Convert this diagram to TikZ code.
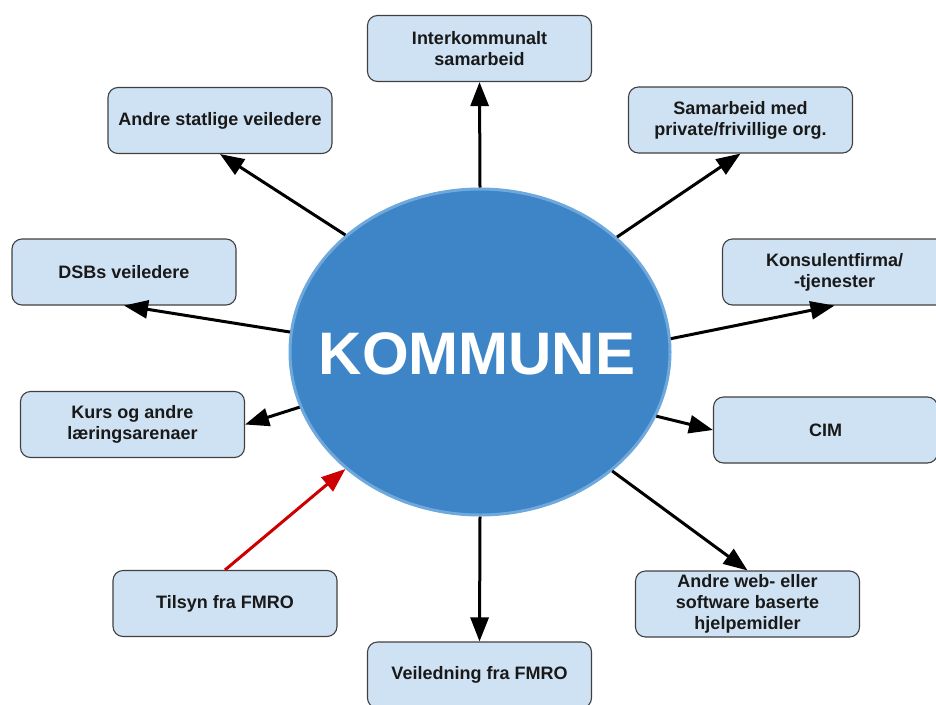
\documentclass[tikz,border=0pt]{standalone}
\usepackage{fontspec}
\setmainfont{Liberation Sans}
\usetikzlibrary{arrows.meta}
\definecolor{boxfill}{HTML}{CFE2F3}
\definecolor{boxline}{HTML}{404040}
\definecolor{komfill}{HTML}{3D85C6}
\definecolor{komline}{HTML}{6FA8DC}
\definecolor{tilsynred}{HTML}{CC0000}
\tikzset{
  x=1pt, y=-1pt,
  infobox/.style={draw=boxline, line width=1.1pt, fill=boxfill, rounded corners=10pt,
    minimum width=224pt, minimum height=66pt, inner sep=0pt, align=center,
    font=\bfseries\fontsize{18}{21}\selectfont, text=black!90},
  kommune/.style={ellipse, draw=komline, line width=3pt, fill=komfill,
    minimum width=380pt, minimum height=326pt, inner sep=0pt},
  link/.style={line width=3pt, -{Triangle[length=24pt,width=18pt]}},
  redlink/.style={link, draw=tilsynred, -{Triangle[length=24pt,width=18pt,fill=tilsynred]}}
}
\usetikzlibrary{shapes.geometric}
\begin{document}
\begin{tikzpicture}
\useasboundingbox (0,0) rectangle (936,704);

% central ellipse and its label
\node[kommune] (kom) at (480,352) {};
\node[text=white, inner sep=0pt, font=\bfseries\fontsize{60}{60}\selectfont] (komtxt) at (477,353.5) {KOMMUNE};

% surrounding boxes
\node[infobox] (ik)   at (479.5,48.5) {Interkommunalt\\samarbeid};
\node[infobox] (ast)  at (220,120.5)  {Andre statlige veiledere};
\node[infobox] (sm)   at (740.5,120)  {Samarbeid med\\private/frivillige org.};
\node[infobox] (dsb)  at (124,272)    {DSBs veiledere};
\node[infobox] (kon)  at (834.5,272)  {Konsulentfirma/\\-tjenester};
\node[infobox] (kurs) at (132.5,424.5){Kurs og andre\\læringsarenaer};
\node[infobox] (cim)  at (825.5,430)  {CIM};
\node[infobox] (ts)   at (225,603.5)  {Tilsyn fra FMRO};
\node[infobox] (aw)   at (747.5,604)  {Andre web- eller\\software baserte\\hjelpemidler};
\node[infobox] (vf)   at (479.5,675)  {Veiledning fra FMRO};

% connectors
\draw[link] (kom.90)    -- (ik.south);
\draw[link] (kom.139.3) -- (ast.south);
\draw[link] (kom.40.7)  -- (sm.south);
\draw[link] (kom.174.3) -- (dsb.south);
\draw[link] (kom.4.5)   -- (kon.south);
\draw[link] (kom.197.1) -- (kurs.east);
\draw[link] (kom.-20)   -- (cim.west);
\draw[link] (kom.-42.3) -- (aw.north);
\draw[link] (kom.270)   -- (vf.north);
\draw[redlink] (ts.north) -- (kom.221.9);
\end{tikzpicture}
\end{document}
